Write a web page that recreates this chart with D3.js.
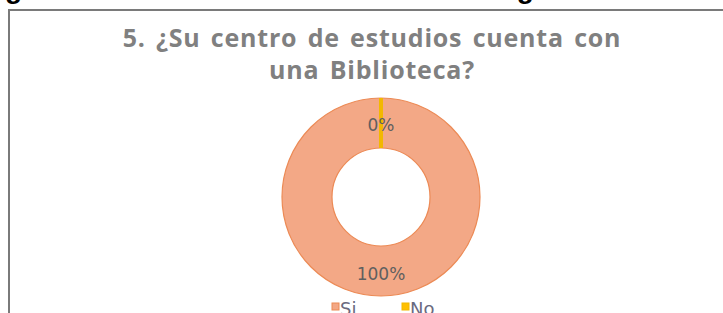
<!DOCTYPE html>
<html lang="es">
  <head>
    <meta charset="utf-8">
    <title>Biblioteca</title>
    <script src="https://cdn.jsdelivr.net/npm/d3@7"></script>
    <style>
      body { margin: 0; background: #fff; }
      svg { display: block; }
    </style>
  </head>
  <body>
    <script>
     // data
     const categories = ["Si", "No"];
     const values = [100, 0];
     const pctLabels = ["100%", "0%"];
     const titleLines = ["5. ¿Su centro de estudios cuenta con", "una Biblioteca?"];
     const caption = "Figura 5. Resultados de la encuesta. Pregunta 5";

     const w = 723, h = 313;
     const cx = 381, cy = 197, rOut = 99, rIn = 49;
     const fills = ["#f3a886", "#ffc000"];
     const strokes = ["#ec8a55", "#f2b800"];

     const svg = d3.select("body").append("svg")
                   .attr("width", w).attr("height", h);

     // caption from the page above, mostly cut off
     svg.append("text")
        .attr("x", -20).attr("y", -2)
        .attr("font-family", "Liberation Sans, Arial, sans-serif")
        .attr("font-weight", "bold")
        .attr("font-size", 28)
        .attr("fill", "#000")
        .text(caption);

     // chart frame
     svg.append("rect")
        .attr("x", 9).attr("y", 10)
        .attr("width", w + 10).attr("height", h)
        .attr("fill", "#fff")
        .attr("stroke", "#7a7a7a")
        .attr("stroke-width", 2);

     // title
     svg.append("g").selectAll("text")
        .data(titleLines)
        .enter()
        .append("text")
        .attr("x", 372)
        .attr("y", (d, i) => 47 + i * 32)
        .attr("text-anchor", "middle")
        .attr("font-family", "Open Sans, sans-serif")
        .attr("font-weight", "bold")
        .attr("font-size", 25)
        .attr("letter-spacing", 0.8)
        .attr("word-spacing", 3)
        .attr("fill", "#808080")
        .text(d => d);

     // donut
     const pie = d3.pie().sort(null).value(d => d)
                   .startAngle(Math.PI * 2).endAngle(0);
     const arcs = pie(values);
     const arc = d3.arc().innerRadius(rIn).outerRadius(rOut);

     const g = svg.append("g").attr("transform", `translate(${cx},${cy})`);
     g.selectAll("path")
      .data(arcs)
      .enter()
      .append("path")
      .attr("d", arc)
      .attr("fill", (d, i) => fills[i])
      .attr("stroke", (d, i) => strokes[i])
      .attr("stroke-width", (d, i) => i === 1 ? 4 : 1.2);

     // percentage labels: "No" sits at the top, "Si" at the bottom
     const mid = (rIn + rOut) / 2;
     g.selectAll("text.pct")
      .data(arcs)
      .enter()
      .append("text")
      .attr("class", "pct")
      .attr("x", 0)
      .attr("y", d => d.value === 0 ? -mid + 8 : mid + 9)
      .attr("text-anchor", "middle")
      .attr("font-family", "DejaVu Sans, sans-serif")
      .attr("font-size", 17)
      .attr("fill", "#5f5f5f")
      .text((d, i) => pctLabels[i]);

     // legend
     const legX = [332, 402];
     const leg = svg.append("g");
     leg.selectAll("rect")
        .data(categories)
        .enter()
        .append("rect")
        .attr("x", (d, i) => legX[i])
        .attr("y", 303)
        .attr("width", 7).attr("height", 7)
        .attr("fill", (d, i) => fills[i])
        .attr("stroke", (d, i) => strokes[i]);
     leg.selectAll("text")
        .data(categories)
        .enter()
        .append("text")
        .attr("x", (d, i) => legX[i] + 8)
        .attr("y", 315)
        .attr("font-family", "DejaVu Sans, sans-serif")
        .attr("font-size", 18)
        .attr("fill", "#6a6a80")
        .text(d => d);
    </script>
  </body>
</html>
